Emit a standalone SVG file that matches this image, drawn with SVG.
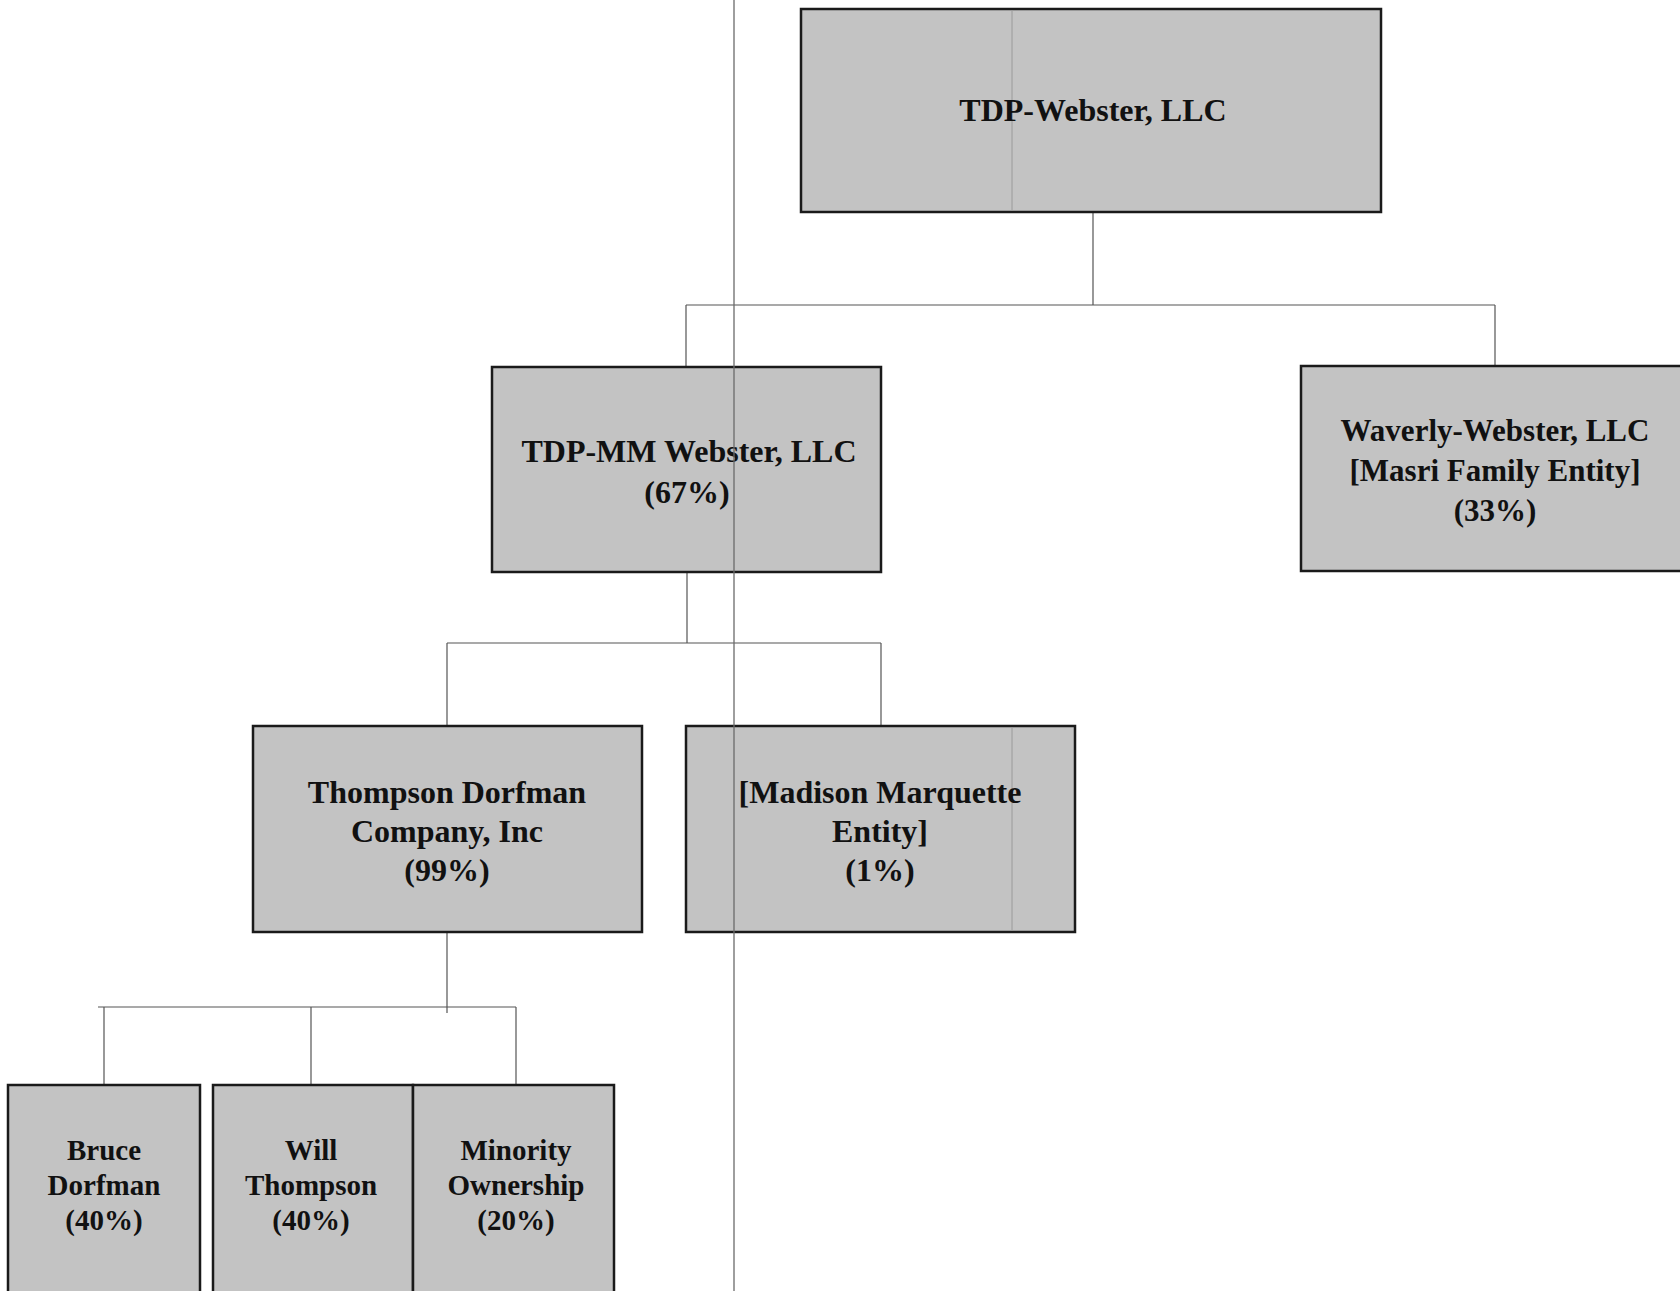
<svg xmlns="http://www.w3.org/2000/svg" width="1680" height="1291" viewBox="0 0 1680 1291">
<style>
.box{fill:#c3c3c3;stroke:#1a1a1a;stroke-width:2.5}
.t{font-family:"Liberation Serif",serif;font-weight:bold;font-size:32px;fill:#111;text-anchor:middle}
.m{font-size:31px}
.s{font-size:29px}
.c{fill:none;stroke:#555;stroke-width:1.2}
.scan{stroke:#6a6a6a;stroke-width:1.3}
.faint{stroke:#9a9a9a;stroke-width:1}
</style>
<rect width="1680" height="1291" fill="#fff"/>
<g id="connectors">
<path class="c" d="M1093 213V305M686 305H1495M686 305V367M1495 305V366"/>
<path class="c" d="M687 573V643M447 643H881M447 643V726M881 643V726"/>
<path class="c" d="M447 932V1013M98 1007H516M104 1007V1085M311 1007V1085M516 1007V1085"/>
</g>
<g id="n-tdp-webster">
<rect class="box" x="801" y="9" width="580" height="203"/>
<line class="faint" x1="1012" y1="10" x2="1012" y2="211"/>
<text class="t" x="1093" y="121">TDP-Webster, LLC</text>
</g>
<g id="n-tdp-mm">
<rect class="box" x="492" y="367" width="389" height="205"/>
<text class="t" x="689" y="462">TDP-MM Webster, LLC</text>
<text class="t" x="687" y="503">(67%)</text>
</g>
<g id="n-waverly">
<rect class="box" x="1301" y="366" width="400" height="205"/>
<text class="t m" x="1495" y="441">Waverly-Webster, LLC</text>
<text class="t m" x="1495" y="481">[Masri Family Entity]</text>
<text class="t m" x="1495" y="521">(33%)</text>
</g>
<g id="n-thompson-dorfman">
<rect class="box" x="253" y="726" width="389" height="206"/>
<text class="t" x="447" y="803">Thompson Dorfman</text>
<text class="t" x="447" y="842">Company, Inc</text>
<text class="t" x="447" y="881">(99%)</text>
</g>
<g id="n-madison">
<rect class="box" x="686" y="726" width="389" height="206"/>
<line class="faint" x1="1012" y1="727" x2="1012" y2="931"/>
<text class="t" x="880" y="803">[Madison Marquette</text>
<text class="t" x="880" y="842">Entity]</text>
<text class="t" x="880" y="881">(1%)</text>
</g>
<g id="n-bruce">
<rect class="box" x="8" y="1085" width="192" height="220"/>
<text class="t s" x="104" y="1160">Bruce</text>
<text class="t s" x="104" y="1195">Dorfman</text>
<text class="t s" x="104" y="1230">(40%)</text>
</g>
<g id="n-will">
<rect class="box" x="213" y="1085" width="200" height="220"/>
<text class="t s" x="311" y="1160">Will</text>
<text class="t s" x="311" y="1195">Thompson</text>
<text class="t s" x="311" y="1230">(40%)</text>
</g>
<g id="n-minority">
<rect class="box" x="413" y="1085" width="201" height="220"/>
<text class="t s" x="516" y="1160">Minority</text>
<text class="t s" x="516" y="1195">Ownership</text>
<text class="t s" x="516" y="1230">(20%)</text>
</g>
<line class="scan" x1="734" y1="0" x2="734" y2="1291"/>
</svg>
